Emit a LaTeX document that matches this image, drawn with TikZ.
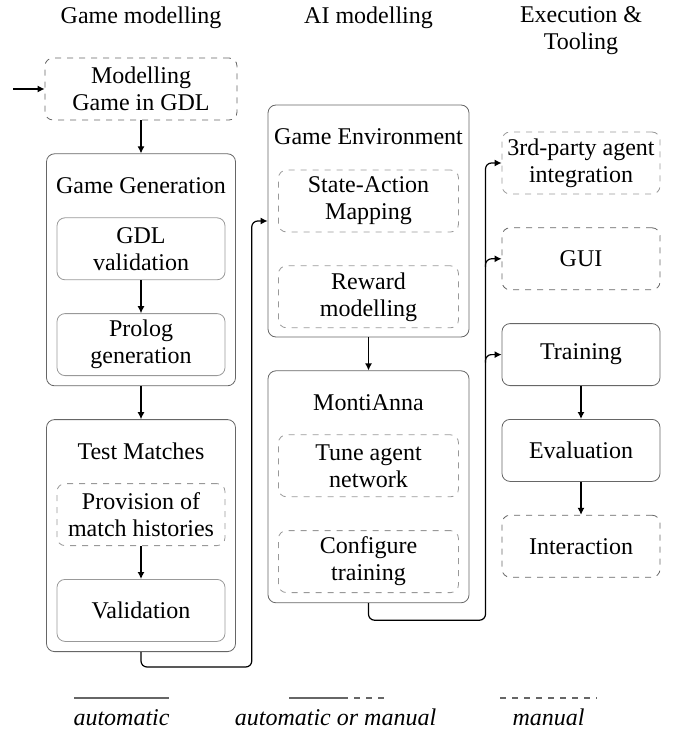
\documentclass[tikz,border=0pt]{standalone}
\usepackage{fontspec}
\setmainfont{Liberation Serif}[Ligatures=TeX]
\newfontfamily\diagramfont{Liberation Serif}
\usetikzlibrary{calc,positioning,arrows.meta}

\begin{document}
\begin{tikzpicture}[x=0.5pt,y=-0.5pt,font=\diagramfont\fontsize{12}{13.5}\selectfont,
          node distance=16.5pt and 2cm,
          flow/.style={semithick,-{Latex[length=3.5pt,width=3.5pt]}},
          bus/.style={flow,rounded corners=3pt},
          outerBlock/.style={
            draw=black!60,
            rectangle,
            rounded corners=4pt,
            minimum width=94.5pt,
            minimum height=116pt},
          autoBlock/.style={
            draw=black!60,
            rectangle,
            rounded corners=4pt,
            align=center,
            inner sep=2pt,
            minimum width=79pt,
            minimum height=31pt},
          manualBlock/.style={autoBlock,dashed},
          autoInner/.style={autoBlock,draw=black!40,minimum width=84pt},
          manualInner/.style={autoInner,dashed},
          legendLine/.style={draw=black!60,semithick},
          legendText/.style={anchor=base,font=\diagramfont\fontsize{12}{13.5}\selectfont\itshape}
        ]
          \useasboundingbox (0,0) rectangle (677,732);

          \node (headGame) at (141,18) {Game modelling};
          \node (headAI) at (368.5,18) {AI modelling};
          \node[align=center] (headExec) at (581,31) {Execution \&\\Tooling};

          \node[manualBlock, minimum width=96pt] (modelGDL) at (141,89) {Modelling\\Game in GDL};
          \coordinate (entry) at (13,89);

          \node[outerBlock, below=of modelGDL] (gameGen) {};
          \node (gameGenTitle) at ($(gameGen.north)+(0,32)$) {Game Generation};
          \node[autoInner, anchor=north] (gdlValid) at ($(gameGen.north)+(0,64)$) {GDL\\validation};
          \node[autoInner, below=of gdlValid] (prologGen) {Prolog\\generation};

          \node[outerBlock, below=of gameGen] (testMatch) {};
          \node (testMatchTitle) at ($(testMatch.north)+(0,32)$) {Test Matches};
          \node[manualInner, anchor=north] (histories) at ($(testMatch.north)+(0,64)$) {Provision of\\match histories};
          \node[autoInner, below=of histories] (validation) {Validation};

          \node[outerBlock, minimum width=100.5pt] (gameEnv) at (368.5,221) {};
          \node (gameEnvTitle) at ($(gameEnv.north)+(0,32)$) {Game Environment};
          \node[manualInner, minimum width=90pt, anchor=north] (stateAction) at ($(gameEnv.north)+(0,65)$) {State-Action\\Mapping};
          \node[manualInner, minimum width=90pt, below=of stateAction] (reward) {Reward\\modelling};

          \node[outerBlock, minimum width=100.5pt, below=of gameEnv] (montiAnna) {};
          \node (montiAnnaTitle) at ($(montiAnna.north)+(0,32)$) {MontiAnna};
          \node[manualInner, minimum width=90pt, anchor=north] (tuneNet) at ($(montiAnna.north)+(0,64)$) {Tune agent\\network};
          \node[manualInner, minimum width=90pt, below=of tuneNet] (configTrain) {Configure\\training};

          \node[manualBlock, draw=black!40] (thirdParty) at (581,163) {3rd-party agent\\integration};
          \node[manualBlock, below=of thirdParty] (gui) {GUI};
          \node[autoBlock, below=of gui] (training) {Training};
          \node[autoBlock, below=of training] (evaluation) {Evaluation};
          \node[manualBlock, below=of evaluation] (interaction) {Interaction};

          \coordinate (busA) at ($(testMatch.east)!.5!(testMatch.east -| gameEnv.west)$);
          \coordinate (busB) at ($(montiAnna.east)!.5!(montiAnna.east -| training.west)$);

          \draw[flow] (entry) -- (modelGDL.west);
          \draw[flow] (modelGDL) -- (gameGen);
          \draw[flow] (gdlValid) -- (prologGen);
          \draw[flow] (gameGen) -- (testMatch);
          \draw[flow] (histories) -- (validation);
          \draw[flow] (gameEnv) -- (montiAnna);
          \draw[flow] (training) -- (evaluation);
          \draw[flow] (evaluation) -- (interaction);

          \draw[bus] (testMatch.south) -- ++(0,15) -| (busA |- gameEnv.west) -- (gameEnv.west);
          \draw[bus] (montiAnna.south) -- ++(0,17) -| (busB |- thirdParty.west) -- (thirdParty.west);
          \draw[bus] ($(busB |- gui.west)+(0,8)$) |- (gui.west);
          \draw[bus] ($(busB |- training.west)+(0,8)$) |- (training.west);

          \coordinate (autoL) at (74,698);
          \coordinate (autoR) at (169,698);
          \coordinate (mixL) at (289,698);
          \coordinate (mixM) at (342,698);
          \coordinate (mixR) at (386,698);
          \coordinate (manL) at (500,698);
          \coordinate (manR) at (597,698);

          \draw[legendLine] (autoL) -- (autoR);
          \draw[legendLine] (mixL) -- (mixM);
          \draw[legendLine, dashed] (mixM) -- (mixR);
          \draw[legendLine, dashed] (manL) -- (manR);

          \node[legendText] (autoText) at (121.5,725) {automatic};
          \node[legendText] (mixText) at (335.5,725) {automatic or manual};
          \node[legendText] (manText) at (548.5,725) {manual};
        \end{tikzpicture}
\end{document}
